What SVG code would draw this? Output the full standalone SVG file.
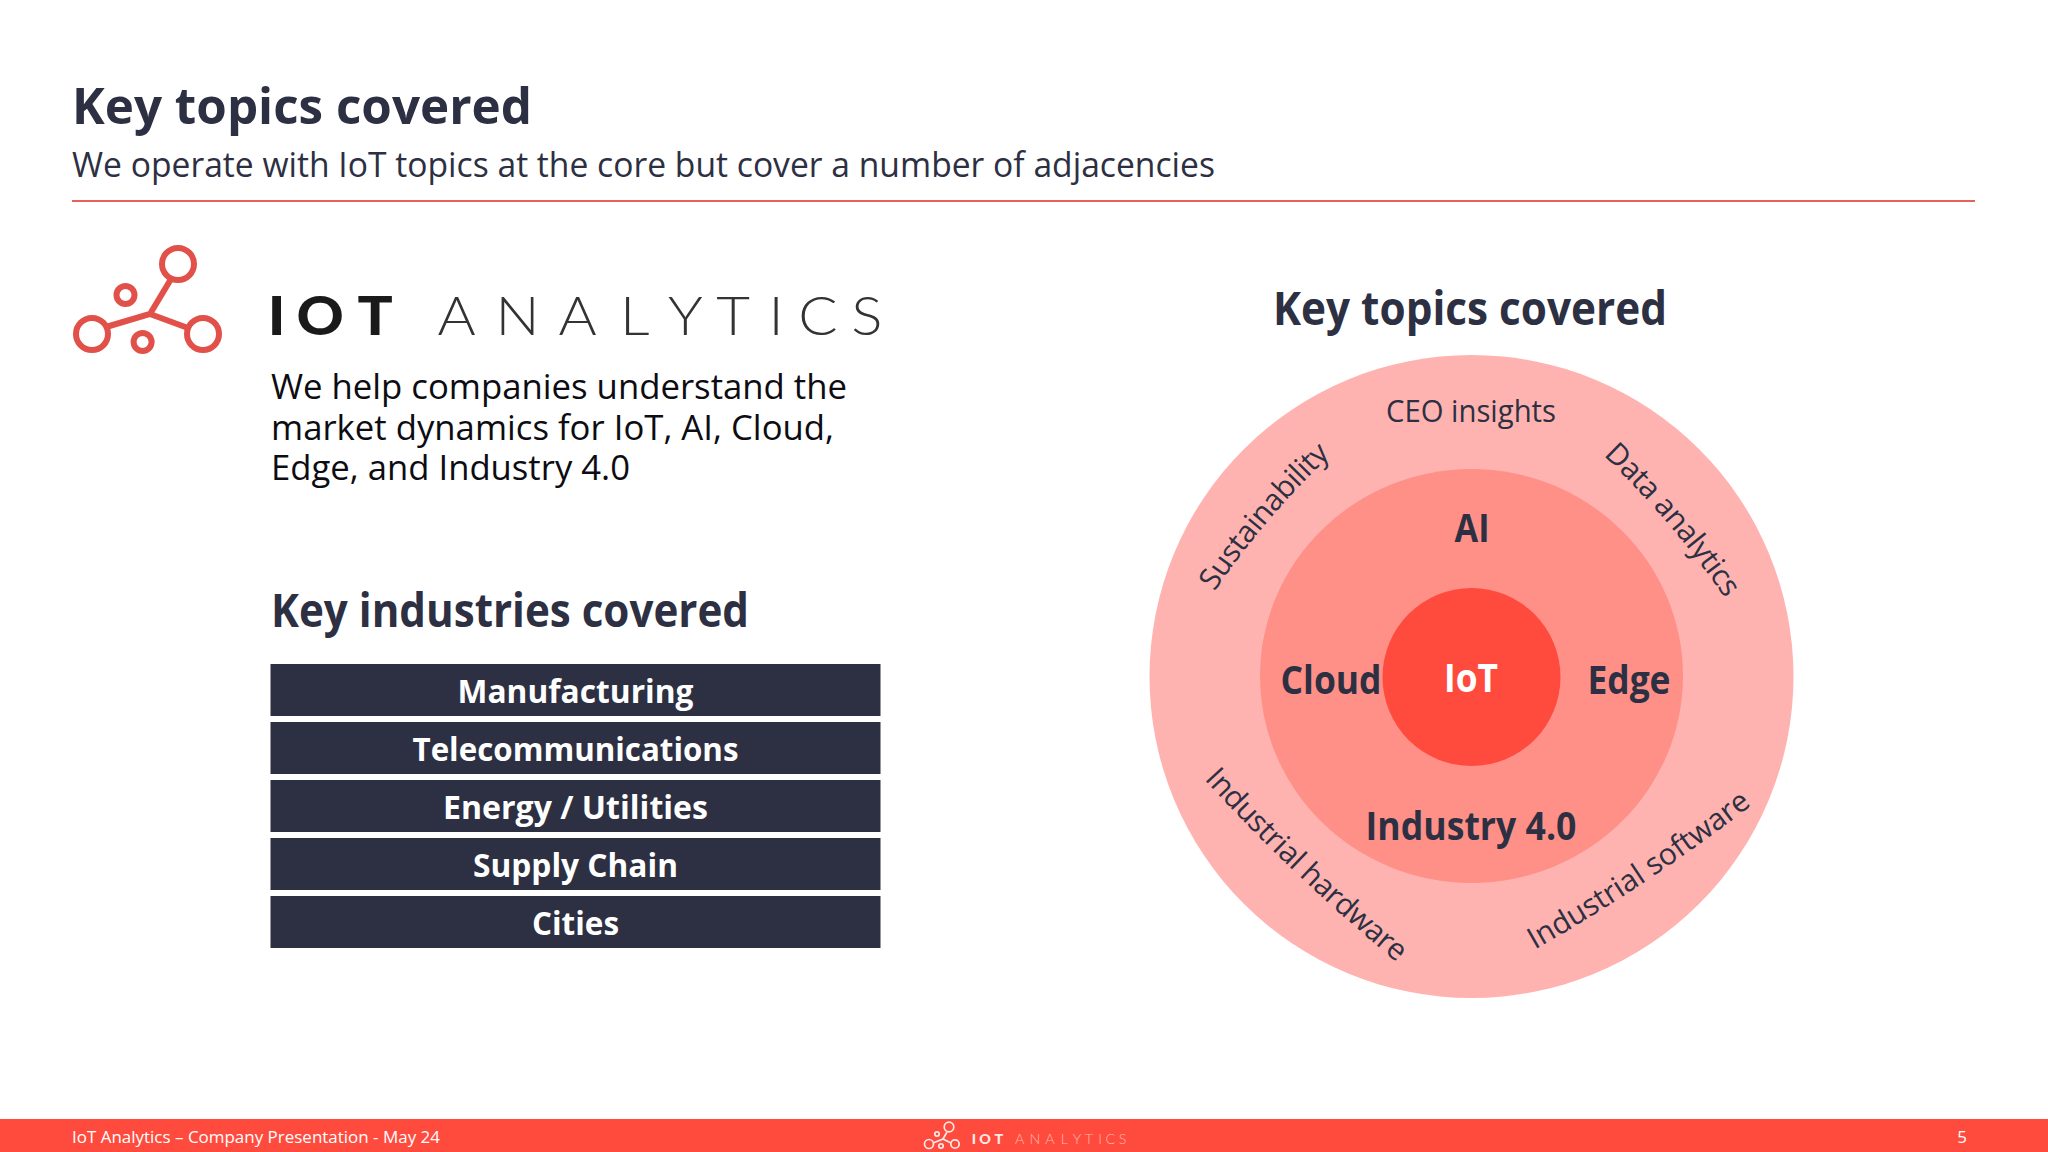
<svg xmlns="http://www.w3.org/2000/svg" width="2048" height="1152" viewBox="0 0 2048 1152">
<style>
text{font-family:"Open Sans","Noto Sans",sans-serif;fill:#2d3042}
.b{font-weight:700}
.c{text-anchor:middle}
.body{fill:#0c0c12;font-size:35px}
.bar{fill:#2d3042}
.lbl{font-size:31px}
.arc{font-size:30px;letter-spacing:-.5px}
.bt{font-size:33px;font-weight:700;fill:#fff;text-anchor:middle}
.big{font-size:40px;font-weight:700;text-anchor:middle}
.lg{font-family:Lato,sans-serif;text-anchor:middle}
</style>
<defs>
<path id="pSus" d="M1206 605Q1263 516 1342 445" fill="none"/>
<path id="pData" d="M1590 443Q1673 519 1735 613" fill="none"/>
<path id="pHard" d="M1184 757Q1292 879 1420 981" fill="none"/>
<path id="pSoft" d="M1510 963.500Q1650 887 1774 787.500" fill="none"/>
</defs>
<rect width="2048" height="1152" fill="#fff"/>
<g id="header">
<text x="72" y="124" class="b" font-size="51" textLength="460" lengthAdjust="spacingAndGlyphs">Key topics covered</text>
<text x="72" y="177" font-size="34" textLength="1143" lengthAdjust="spacingAndGlyphs">We operate with IoT topics at the core but cover a number of adjacencies</text>
<line x1="72" y1="201" x2="1975" y2="201" stroke="#e8605a" stroke-width="2"/>
</g>
<g id="logo" fill="none" stroke="#e2504a" stroke-width="6">
<circle cx="178" cy="264" r="16"/><circle cx="92" cy="334" r="16"/><circle cx="203" cy="334" r="16"/>
<circle cx="125.500" cy="295" r="9"/><circle cx="142.600" cy="342" r="9"/>
<path d="M171 279L150 314L106 327M150 314L188 328"/>
</g>
<g id="logo-text">
<text class="lg" transform="scale(1.1 1)" x="251.500 291 341" y="335" font-size="53" font-weight="900" style="fill:#1a1a1a">IOT</text>
<text class="lg" transform="scale(1.1 1)" x="415 470.500 525 577 623 666.500 705.500 743.500 788" y="335" font-size="53" font-weight="300" style="fill:#333">ANALYTICS</text>
</g>
<g id="intro">
<text x="271" y="399" class="body" textLength="576" lengthAdjust="spacingAndGlyphs">We help companies understand the</text>
<text x="271" y="440" class="body" textLength="563" lengthAdjust="spacingAndGlyphs">market dynamics for IoT, AI, Cloud,</text>
<text x="271" y="480" class="body" textLength="359" lengthAdjust="spacingAndGlyphs">Edge, and Industry 4.0</text>
</g>
<g id="industries">
<text x="271" y="627" class="b" font-size="46" textLength="478" lengthAdjust="spacingAndGlyphs">Key industries covered</text>
<g id="n-manufacturing"><rect class="bar" x="270.500" y="664" width="610" height="52"/><text class="bt" x="575.500" y="703" textLength="236" lengthAdjust="spacingAndGlyphs">Manufacturing</text></g>
<g id="n-telecom"><rect class="bar" x="270.500" y="722" width="610" height="52"/><text class="bt" x="575.500" y="761" textLength="326" lengthAdjust="spacingAndGlyphs">Telecommunications</text></g>
<g id="n-energy"><rect class="bar" x="270.500" y="780" width="610" height="52"/><text class="bt" x="575.500" y="819" textLength="265" lengthAdjust="spacingAndGlyphs">Energy / Utilities</text></g>
<g id="n-supply"><rect class="bar" x="270.500" y="838" width="610" height="52"/><text class="bt" x="575.500" y="877" textLength="205" lengthAdjust="spacingAndGlyphs">Supply Chain</text></g>
<g id="n-cities"><rect class="bar" x="270.500" y="896" width="610" height="52"/><text class="bt" x="575.500" y="935" textLength="87" lengthAdjust="spacingAndGlyphs">Cities</text></g>
</g>
<g id="topics">
<text x="1470" y="325" class="b c" font-size="46" textLength="394" lengthAdjust="spacingAndGlyphs">Key topics covered</text>
<ellipse id="ring-outer" cx="1471.500" cy="676.500" rx="322" ry="321.500" fill="#ffb3b0"/>
<ellipse id="ring-middle" cx="1471.500" cy="676" rx="211.500" ry="207" fill="#ff9088"/>
<circle id="ring-core" cx="1471.500" cy="677" r="89" fill="#ff4b3e"/>
<text class="lbl c" x="1471" y="422" textLength="170" lengthAdjust="spacingAndGlyphs">CEO insights</text>
<text class="arc c"><textPath href="#pSus" startOffset="50%">Sustainability</textPath></text>
<text class="arc c"><textPath href="#pData" startOffset="50%">Data analytics</textPath></text>
<text class="arc c"><textPath href="#pHard" startOffset="50%">Industrial hardware</textPath></text>
<text class="arc c" style="letter-spacing:-.1px"><textPath href="#pSoft" startOffset="50%">Industrial software</textPath></text>
<text class="big" x="1472" y="542" textLength="35" lengthAdjust="spacingAndGlyphs">AI</text>
<text class="big" x="1331" y="694" textLength="101" lengthAdjust="spacingAndGlyphs">Cloud</text>
<text class="big" x="1471" y="692" style="fill:#fff" textLength="54" lengthAdjust="spacingAndGlyphs">IoT</text>
<text class="big" x="1629" y="694" textLength="83" lengthAdjust="spacingAndGlyphs">Edge</text>
<text class="big" x="1471" y="840" textLength="211" lengthAdjust="spacingAndGlyphs">Industry 4.0</text>
</g>
<g id="footer">
<rect x="0" y="1119" width="2048" height="33" fill="#ff4b3e"/>
<text x="72" y="1143" font-size="17" style="fill:#fff" textLength="368" lengthAdjust="spacingAndGlyphs">IoT Analytics – Company Presentation - May 24</text>
<text x="1962" y="1143" font-size="17" class="c" style="fill:#fff">5</text>
<g fill="none" stroke="#ffe9e6" stroke-width="1.700">
<circle cx="949" cy="1127" r="4.800"/><circle cx="929" cy="1144" r="4.500"/><circle cx="955" cy="1144" r="4.200"/>
<circle cx="937" cy="1134" r="2.200"/><circle cx="941" cy="1146" r="2.200"/>
<path d="M947 1132L943 1139L933 1143M943 1139L951 1143"/>
</g>
<text class="lg" transform="scale(1.1 1)" x="885.500 895.500 908" y="1144" font-size="13" font-weight="900" style="fill:#ffe9e6">IOT</text>
<text class="lg" transform="scale(1.1 1)" x="927.100 940.800 954.500 967.500 979.100 990 1000 1009.500 1020.500" y="1144" font-size="13" font-weight="300" style="fill:#ffb8b0">ANALYTICS</text>
</g>
</svg>
